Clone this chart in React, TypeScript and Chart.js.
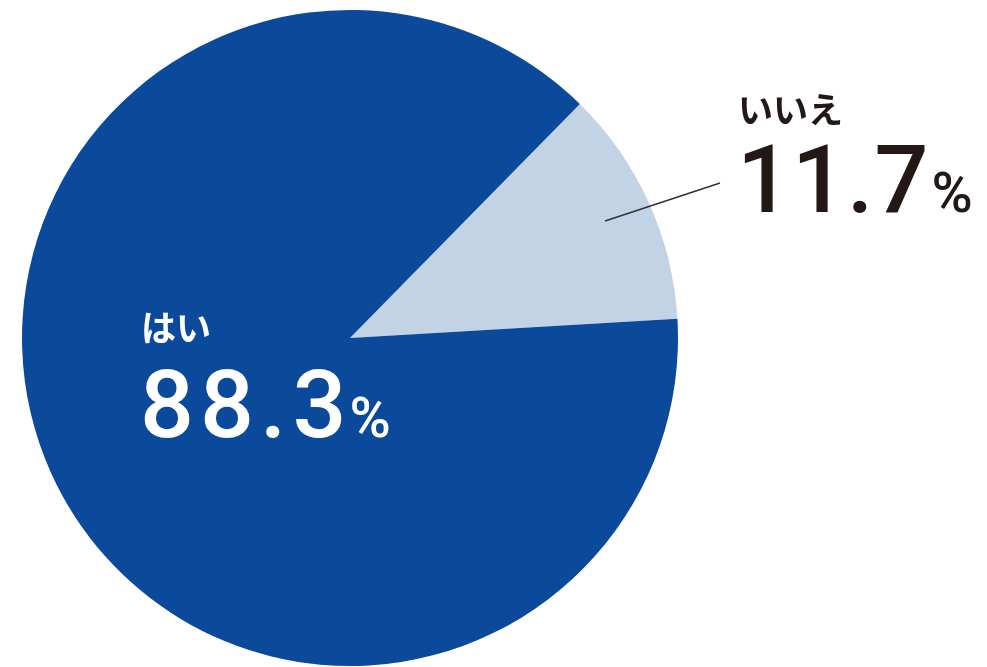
import React, { useEffect, useRef } from "react";
import { Chart, registerables } from "chart.js";

Chart.register(...registerables);

const categories = ["いいえ", "はい"];
const values = [11.7, 88.3];
const valueLabels = ["11.7", "88.3"];
const colors = ["#c3d3e6", "#0b4a9b"];

const labelPlugin = {
  id: "pieLabels",
  afterDraw(chart: any) {
    const ctx = chart.ctx;
    ctx.save();
    const drawSpaced = (text: string, x: number, y: number, spacing: number) => {
      let cx = x;
      for (let i = 0; i < text.length; i++) {
        const ch = text[i];
        ctx.fillText(ch, cx, y);
        cx += ctx.measureText(ch).width + (i < text.length - 1 ? spacing : 0);
      }
      return cx;
    };
    const draw = (
      name: string,
      num: string,
      color: string,
      x: number,
      nameY: number,
      numY: number,
      spacing: number
    ) => {
      ctx.fillStyle = color;
      ctx.textAlign = "left";
      ctx.textBaseline = "alphabetic";
      ctx.font = 'bold 35px "Noto Sans CJK JP"';
      ctx.fillText(name, x, nameY);
      ctx.font = '500 95px Roboto';
      const end = drawSpaced(num, x - 1, numY, spacing);
      ctx.font = '500 56px Roboto';
      ctx.fillText("%", end + 3, numY);
    };
    draw(categories[1], valueLabels[1], "#ffffff", 141, 341, 437, 6);
    draw(categories[0], valueLabels[0], "#231815", 738, 123, 212, 1);
    ctx.strokeStyle = "#333333";
    ctx.lineWidth = 1.5;
    ctx.beginPath();
    ctx.moveTo(605, 221);
    ctx.lineTo(720, 183);
    ctx.stroke();
    ctx.restore();
  },
};

export default function App() {
  const ref = useRef<HTMLCanvasElement | null>(null);
  useEffect(() => {
    if (!ref.current) return;
    const chart = new Chart(ref.current, {
      type: "pie",
      data: {
        labels: categories,
        datasets: [
          {
            data: values,
            backgroundColor: colors,
            borderWidth: 0,
          },
        ],
      },
      options: {
        responsive: false,
        animation: false,
        rotation: 44.5,
        layout: { padding: { left: 22, right: 309, top: 10, bottom: 1 } },
        plugins: {
          legend: { display: false },
          tooltip: { enabled: false },
        },
      },
      plugins: [labelPlugin],
    });
    return () => chart.destroy();
  }, []);
  return (
    <div style={{ position: "absolute", left: 0, top: 0, width: 987, height: 667, background: "#ffffff" }}>
      <canvas ref={ref} width={987} height={667} style={{ display: "block" }} />
    </div>
  );
}
